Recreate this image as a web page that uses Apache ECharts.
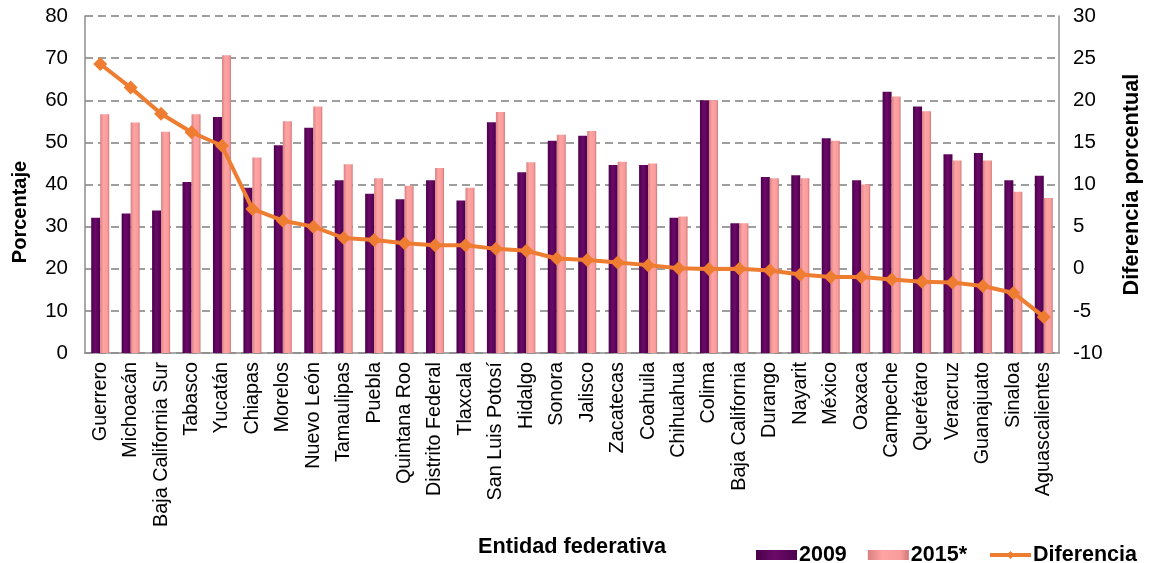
<!DOCTYPE html>
<html>
<head>
<meta charset="utf-8">
<script src="https://cdn.jsdelivr.net/npm/echarts@6/dist/echarts.min.js"></script>
<style>
html,body{margin:0;padding:0;background:#fff;}
#chart{width:1151px;height:563px;}
</style>
</head>
<body>
<div id="chart"></div>
<script>
const categories = ["Guerrero","Michoacán","Baja California Sur","Tabasco","Yucatán","Chiapas","Morelos","Nuevo León","Tamaulipas","Puebla","Quintana Roo","Distrito Federal","Tlaxcala","San Luis Potosí","Hidalgo","Sonora","Jalisco","Zacatecas","Coahuila","Chihuahua","Colima","Baja California","Durango","Nayarit","México","Oaxaca","Campeche","Querétaro","Veracruz","Guanajuato","Sinaloa","Aguascalientes"];
const values2009 = [32.1,33.1,33.8,40.6,56.0,39.2,49.3,53.5,41.0,37.8,36.5,41.0,36.2,54.8,42.9,50.4,51.6,44.6,44.6,32.1,60.0,30.8,41.8,42.2,51.0,41.0,62.0,58.5,47.2,47.5,41.0,42.1];
const values2015 = [56.7,54.7,52.5,56.7,70.7,46.4,55.0,58.5,44.8,41.5,39.7,43.9,39.2,57.2,45.3,51.8,52.7,45.4,45.0,32.4,60.0,30.8,41.5,41.5,50.4,40.0,60.9,57.4,45.7,45.7,38.3,36.8];
const diferencia = [24.3,21.5,18.4,16.2,14.6,7.1,5.7,5.0,3.65,3.4,3.04,2.8,2.8,2.36,2.13,1.22,1.03,0.73,0.43,0.05,-0.03,0.0,-0.2,-0.67,-0.98,-0.98,-1.28,-1.55,-1.62,-2.04,-2.87,-5.72];
const leftTicks = {min:0, max:80, interval:10};
const rightTicks = {min:-10, max:30, interval:5};

const chart = echarts.init(document.getElementById('chart'), null, {renderer:'canvas'});
const FONT = 'Arial, "Liberation Sans", sans-serif';
const purpleGrad = new echarts.graphic.LinearGradient(0,0,1,0,[
  {offset:0,color:'#4a0048'},{offset:0.45,color:'#6c0a6a'},{offset:1,color:'#4e004c'}]);
const pinkGrad = new echarts.graphic.LinearGradient(0,0,1,0,[
  {offset:0,color:'#d98080'},{offset:0.35,color:'#ffa3a3'},{offset:0.8,color:'#f99b9b'},{offset:1,color:'#cf7676'}]);

chart.setOption({
  animation:false,
  backgroundColor:'#ffffff',
  grid:{left:85, right:76, top:16, bottom:195, containLabel:false},
  legend:{
    left:751, top:539,
    itemWidth:41, itemHeight:10, itemGap:21,
    textStyle:{fontFamily:FONT, fontWeight:'bold', fontSize:21.5, color:'#000', padding:[0,0,0,-3]},
    data:[
      {name:'2009', icon:'rect'},
      {name:'2015*', icon:'rect'},
      {name:'Diferencia', lineStyle:{width:4}}
    ]
  },
  xAxis:{
    type:'category',
    data:categories,
    name:'Entidad federativa',
    nameLocation:'middle',
    nameGap:183,
    nameTextStyle:{fontFamily:FONT, fontWeight:'bold', fontSize:21.7, color:'#000'},
    axisLine:{show:true, lineStyle:{color:'#8c8c8c', width:1.5}},
    axisTick:{show:false},
    axisLabel:{rotate:90, interval:0, margin:9, fontFamily:FONT, fontSize:19.8, color:'#000'},
    splitLine:{show:false}
  },
  yAxis:[
    {
      type:'value', position:'left',
      min:leftTicks.min, max:leftTicks.max, interval:leftTicks.interval,
      axisLine:{show:true, lineStyle:{color:'#8c8c8c', width:1.5}},
      axisTick:{show:false},
      axisLabel:{margin:17, fontFamily:FONT, fontSize:20.5, color:'#000'},
      splitLine:{show:true, lineStyle:{color:'#7f7f7f', width:1.6, type:[8,5]}}
    },
    {
      type:'value', position:'right',
      min:rightTicks.min, max:rightTicks.max, interval:rightTicks.interval,
      name:'Diferencia porcentual',
      nameLocation:'middle', nameRotate:90, nameGap:62,
      nameTextStyle:{fontFamily:FONT, fontWeight:'bold', fontSize:21.7, color:'#000'},
      axisLine:{show:true, lineStyle:{color:'#8c8c8c', width:1.5}},
      axisTick:{show:false},
      axisLabel:{margin:14, fontFamily:FONT, fontSize:20.5, color:'#000'},
      splitLine:{show:false}
    }
  ],
  graphic:[
    {type:'text', x:20, y:212, rotation:Math.PI/2,
     style:{text:'Porcentaje', fontFamily:FONT, fontWeight:'bold', fontSize:20, fill:'#000', align:'center', verticalAlign:'middle'}}
  ],
  series:[
    {name:'2009', type:'bar', yAxisIndex:0, data:values2009, barWidth:9, barGap:'0%',
     itemStyle:{color:purpleGrad}},
    {name:'2015*', type:'bar', yAxisIndex:0, data:values2015, barWidth:9, barGap:'0%',
     itemStyle:{color:pinkGrad}},
    {name:'Diferencia', type:'line', yAxisIndex:1, data:diferencia,
     symbol:'diamond', symbolSize:14, lineStyle:{color:'#ee7d31', width:4},
     itemStyle:{color:'#ee7d31'}, z:5}
  ]
});
</script>
</body>
</html>
